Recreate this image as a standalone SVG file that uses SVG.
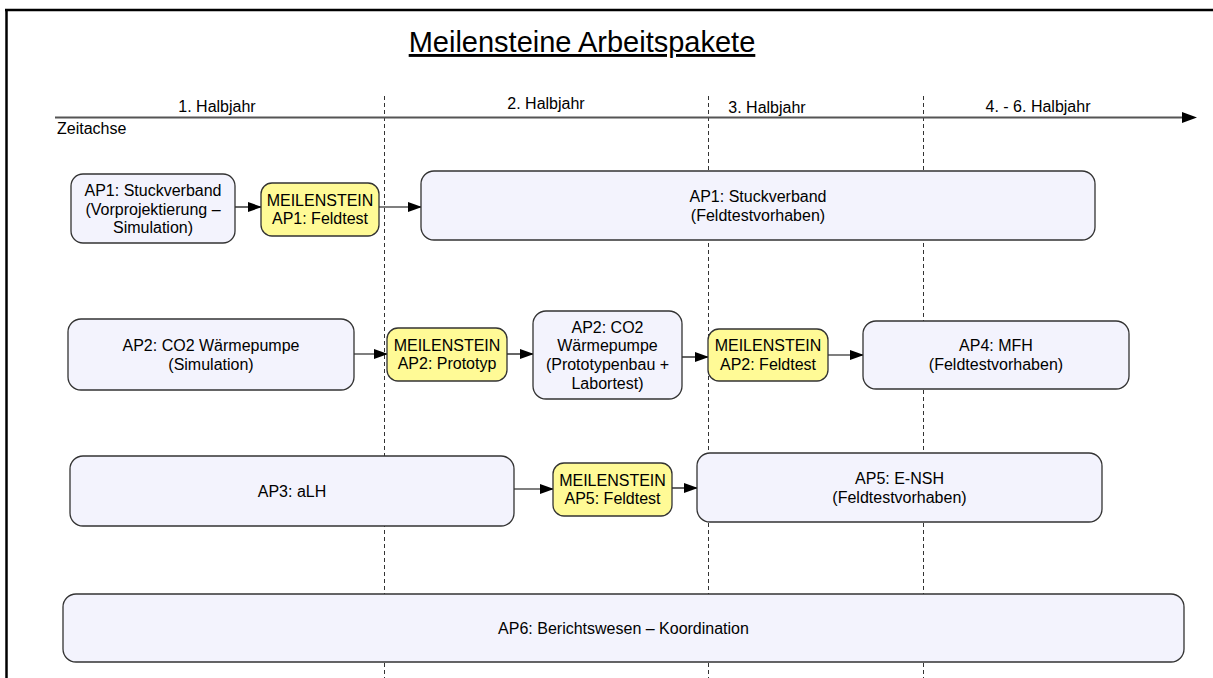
<svg xmlns="http://www.w3.org/2000/svg" width="1213" height="678" viewBox="0 0 1213 678">
<defs>
<style>
text{font-family:"Liberation Sans",Arial,sans-serif;fill:#000}
.t{font-size:16px;text-anchor:middle}
.lbl{font-size:16px}
.title{font-size:29px;text-anchor:middle;text-decoration:underline}
.node rect{fill:#F3F3FD;stroke:#333;stroke-width:1.3}
.ms rect{fill:#FFFA96;stroke:#333;stroke-width:1.3}
.grid line{stroke:#333;stroke-width:1;stroke-dasharray:4 3}
.conn line{stroke:#000;stroke-width:1.2}
</style>
<marker id="ah" markerWidth="14" markerHeight="10" refX="13" refY="5" orient="auto" markerUnits="userSpaceOnUse">
<path d="M0,0 L14,5 L0,10 Z" fill="#000"/>
</marker>
</defs>
<rect x="0" y="0" width="1213" height="678" fill="#fff"/>
<g id="frame" stroke="#000" stroke-width="2.5" fill="none">
<line x1="5" y1="10" x2="1213" y2="10"/>
<line x1="6.5" y1="10" x2="6.5" y2="678"/>
</g>
<text id="title" class="title" x="582" y="52">Meilensteine Arbeitspakete</text>
<g id="grid" class="grid">
<line x1="384.5" y1="96" x2="384.5" y2="678"/>
<line x1="708.5" y1="96" x2="708.5" y2="678"/>
<line x1="923.5" y1="96" x2="923.5" y2="678"/>
</g>
<g id="axis">
<line x1="55" y1="117.5" x2="1184" y2="117.5" stroke="#555" stroke-width="2"/>
<path d="M1182,112 L1197,117.5 L1182,123 Z" fill="#000"/>
<text class="t" x="217" y="112">1. Halbjahr</text>
<text class="t" x="546" y="109">2. Halbjahr</text>
<text class="t" x="767" y="113">3. Halbjahr</text>
<text class="t" x="1038" y="112">4. - 6. Halbjahr</text>
<text class="lbl" x="57" y="134">Zeitachse</text>
</g>
<g id="connectors" class="conn">
<line x1="235" y1="207" x2="261" y2="207" marker-end="url(#ah)"/>
<line x1="379" y1="207" x2="421" y2="207" marker-end="url(#ah)"/>
<line x1="354" y1="354" x2="387" y2="354" marker-end="url(#ah)"/>
<line x1="507" y1="354" x2="533" y2="354" marker-end="url(#ah)"/>
<line x1="682" y1="357" x2="708" y2="357" marker-end="url(#ah)"/>
<line x1="828" y1="355" x2="863" y2="355" marker-end="url(#ah)"/>
<line x1="514" y1="489" x2="553" y2="489" marker-end="url(#ah)"/>
<line x1="672" y1="488" x2="697" y2="488" marker-end="url(#ah)"/>
</g>
<g id="ap1-sim" class="node">
<rect x="71" y="174" width="164" height="69" rx="12"/>
<text class="t" x="153" y="196">AP1: Stuckverband</text>
<text class="t" x="153" y="214.5">(Vorprojektierung –</text>
<text class="t" x="153" y="233">Simulation)</text>
</g>
<g id="ms-ap1" class="ms">
<rect x="261" y="183" width="118" height="53" rx="11"/>
<text class="t" x="320" y="205.5">MEILENSTEIN</text>
<text class="t" x="320" y="224">AP1: Feldtest</text>
</g>
<g id="ap1-feld" class="node">
<rect x="421" y="171" width="674" height="69" rx="13"/>
<text class="t" x="758" y="202">AP1: Stuckverband</text>
<text class="t" x="758" y="220.5">(Feldtestvorhaben)</text>
</g>
<g id="ap2-sim" class="node">
<rect x="68" y="319" width="286" height="71" rx="13"/>
<text class="t" x="211" y="351">AP2: CO2 Wärmepumpe</text>
<text class="t" x="211" y="369.5">(Simulation)</text>
</g>
<g id="ms-ap2-proto" class="ms">
<rect x="387" y="328" width="120" height="53" rx="11"/>
<text class="t" x="447" y="350.5">MEILENSTEIN</text>
<text class="t" x="447" y="369">AP2: Prototyp</text>
</g>
<g id="ap2-proto" class="node">
<rect x="533" y="311" width="149" height="88" rx="13"/>
<text class="t" x="607.5" y="332.5">AP2: CO2</text>
<text class="t" x="607.5" y="351.3">Wärmepumpe</text>
<text class="t" x="607.5" y="370">(Prototypenbau +</text>
<text class="t" x="607.5" y="389">Labortest)</text>
</g>
<g id="ms-ap2-feld" class="ms">
<rect x="708" y="329" width="120" height="52" rx="11"/>
<text class="t" x="768" y="351">MEILENSTEIN</text>
<text class="t" x="768" y="369.5">AP2: Feldtest</text>
</g>
<g id="ap4" class="node">
<rect x="863" y="321" width="266" height="68" rx="13"/>
<text class="t" x="996" y="351">AP4: MFH</text>
<text class="t" x="996" y="369.5">(Feldtestvorhaben)</text>
</g>
<g id="ap3" class="node">
<rect x="70" y="456" width="444" height="70" rx="13"/>
<text class="t" x="292" y="496.5">AP3: aLH</text>
</g>
<g id="ms-ap5" class="ms">
<rect x="553" y="463" width="119" height="53" rx="11"/>
<text class="t" x="612.5" y="485.5">MEILENSTEIN</text>
<text class="t" x="612.5" y="504">AP5: Feldtest</text>
</g>
<g id="ap5" class="node">
<rect x="697" y="453" width="405" height="69" rx="13"/>
<text class="t" x="899.5" y="484">AP5: E-NSH</text>
<text class="t" x="899.5" y="502.5">(Feldtestvorhaben)</text>
</g>
<g id="ap6" class="node">
<rect x="63" y="594" width="1121" height="68" rx="13"/>
<text class="t" x="623.5" y="633.5">AP6: Berichtswesen – Koordination</text>
</g>
</svg>
